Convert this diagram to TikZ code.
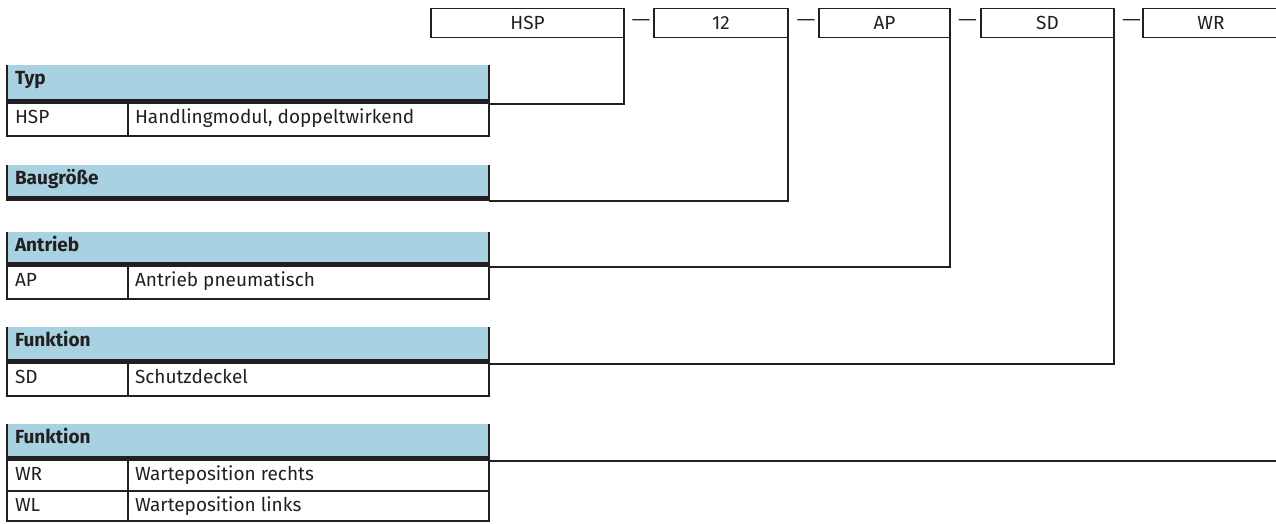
\documentclass[tikz,border=0pt]{standalone}
\usepackage{fontspec}
\setmainfont{Fira Sans}
\definecolor{hblue}{RGB}{168,210,226}
\definecolor{ink}{RGB}{35,31,32}
\begin{document}
\begin{tikzpicture}[x=1pt,y=-1pt,
  txt/.style={font=\fontsize{19}{21}\selectfont, text=ink, inner sep=0pt, outer sep=0pt},
  topbox/.style={txt, draw=ink, line width=1.3pt, minimum height=29pt, anchor=north west},
  hdr/.style={fill=hblue, inner sep=0pt, outer sep=0pt, minimum width=482pt, minimum height=#1, anchor=north west},
  barbox/.style={fill=ink, inner sep=0pt, outer sep=0pt, minimum width=482pt, minimum height=5pt, anchor=north west},
  htext/.style={txt, font=\fontsize{19}{21}\selectfont\bfseries, anchor=base west},
  ctext/.style={txt, anchor=base west},
  dashtxt/.style={txt, font=\fontsize{17}{20}\selectfont},
  frame/.style={draw=ink, line width=1.8pt},
  divider/.style={draw=ink, line width=1.5pt},
  conn/.style={draw=ink, line width=1.3pt}
]
\useasboundingbox (0,0) rectangle (1276,524);

% code boxes
\node[topbox, minimum width=193pt] (bHSP) at (431,8.5) {HSP};
\node[topbox, minimum width=134pt] (b12) at (654,8.5) {12};
\node[topbox, minimum width=131pt] (bAP) at (819,8.5) {AP};
\node[topbox, minimum width=133pt] (bSD) at (981,8.5) {SD};
\node[topbox, minimum width=136pt] (bWR) at (1143,8.5) {WR};
\node[dashtxt] (d1) at (641,22.7) {\scalebox{1.4}[1]{—}};
\node[dashtxt] (d2) at (806,22.7) {\scalebox{1.4}[1]{—}};
\node[dashtxt] (d3) at (967.5,22.7) {\scalebox{1.4}[1]{—}};
\node[dashtxt] (d4) at (1131.5,22.7) {\scalebox{1.4}[1]{—}};

% Typ
\node[hdr=34pt] (hTyp) at (7,65) {};
\node[barbox] (kTyp) at (7,99) {};
\node[htext] (tTyp) at (15,84.8) {Typ};
\node[ctext] (cTypA) at (15,123.5) {HSP};
\node[ctext] (cTypB) at (135,123.5) {Handlingmodul, doppeltwirkend};
\draw[frame] (7,65) -- (7,136) -- (489,136) -- (489,65);
\draw[divider] (128,104) -- (128,136);

% Baugroesse
\node[hdr=31pt] (hBau) at (7,165) {};
\node[barbox] (kBau) at (7,196) {};
\node[htext] (tBau) at (15,184.5) {Baugröße};
\draw[frame] (7,165) -- (7,201);
\draw[frame] (489,165) -- (489,201);

% Antrieb
\node[hdr=30pt] (hAnt) at (7,232) {};
\node[barbox] (kAnt) at (7,262) {};
\node[htext] (tAnt) at (15,251.7) {Antrieb};
\node[ctext] (cAntA) at (15,286.5) {AP};
\node[ctext] (cAntB) at (135,286.5) {Antrieb pneumatisch};
\draw[frame] (7,232) -- (7,299) -- (489,299) -- (489,232);
\draw[divider] (128,267) -- (128,299);

% Funktion SD
\node[hdr=32pt] (hFu1) at (7,327) {};
\node[barbox] (kFu1) at (7,359) {};
\node[htext] (tFu1) at (15,346.7) {Funktion};
\node[ctext] (cFu1A) at (15,383.5) {SD};
\node[ctext] (cFu1B) at (135,383.5) {Schutzdeckel};
\draw[frame] (7,327) -- (7,396) -- (489,396) -- (489,327);
\draw[divider] (128,364) -- (128,396);

% Funktion WR/WL
\node[hdr=32pt] (hFu2) at (7,424) {};
\node[barbox] (kFu2) at (7,456) {};
\node[htext] (tFu2) at (15,443.7) {Funktion};
\node[ctext] (cFu2A) at (15,480.2) {WR};
\node[ctext] (cFu2B) at (135,480.2) {Warteposition rechts};
\node[ctext] (cFu2C) at (15,511.7) {WL};
\node[ctext] (cFu2D) at (135,511.7) {Warteposition links};
\draw[frame] (7,424) -- (7,521) -- (489,521) -- (489,424);
\draw[divider] (7,491) -- (489,491);
\draw[divider] (128,461) -- (128,521);

% connectors
\draw[conn] (bHSP.south east) |- (kTyp.south east);
\draw[conn] (b12.south east) |- (kBau.south east);
\draw[conn] (bAP.south east) |- (kAnt.south east);
\draw[conn] (bSD.south east) |- (kFu1.south east);
\draw[conn] (bWR.south east) |- (kFu2.south east);
\end{tikzpicture}
\end{document}
